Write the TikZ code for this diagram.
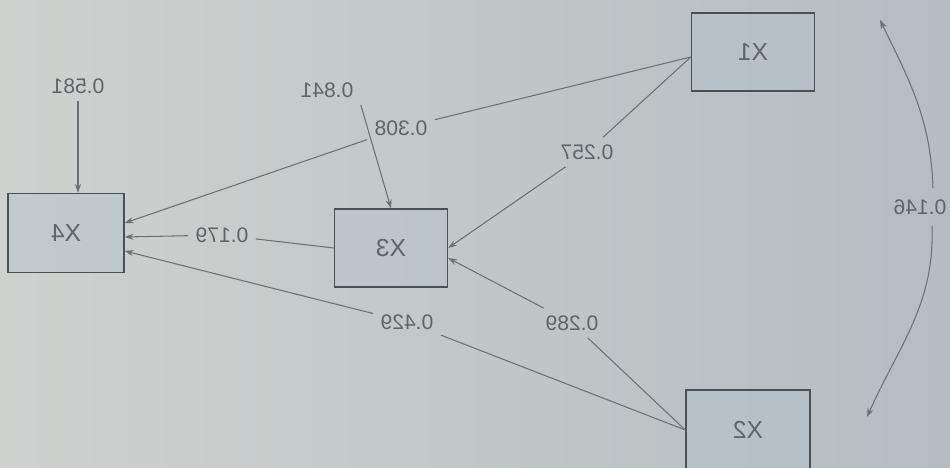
\documentclass[tikz,border=0pt]{standalone}
\usepackage{fontspec}
\setmainfont{Liberation Sans}
\usetikzlibrary{positioning, arrows.meta}
\definecolor{PhBack}{RGB}{206,210,207}
\definecolor{PhBackR}{RGB}{180,189,194}
\definecolor{PhLine}{RGB}{108,112,116}
\definecolor{PhEdge}{RGB}{76,80,84}
\definecolor{PhFill}{RGB}{180,194,202}
\definecolor{PhText}{RGB}{96,100,104}
\newcommand{\mirr}[1]{\reflectbox{#1}}

\begin{document}
\begin{tikzpicture}[
            bx/.style={rectangle, draw=PhEdge, line width=0.8pt, fill=PhFill,
                       fill opacity=0.5, text opacity=1, minimum width=2.3cm,
                       minimum height=1.56cm, text=PhText,
                       font=\fontsize{14}{16}\selectfont},
            lbl/.style={inner sep=4pt, text=PhText, font=\fontsize{12}{14}\selectfont},
            ln/.style={draw=PhLine, line width=0.6pt},
            arr/.style={-{Stealth[length=5pt, width=3.5pt]}, draw=PhLine, line width=0.6pt}
          ]
          % backdrop (photo of the page)
          \shade[left color=PhBack, right color=PhBackR] (0,0) rectangle (19,9.36);
          \useasboundingbox (0,0) rectangle (19,9.36);

          % variables
          \node[bx, minimum width=2.32cm, minimum height=1.58cm] (X4) at (1.32, 4.70) {\mirr{X4}};
          \node[bx, minimum width=2.26cm] (X3) at (7.82, 4.40) {\mirr{X3}};
          \node[bx, minimum width=2.46cm] (X1) at (15.06, 8.32) {\mirr{X1}};
          \node[bx, minimum width=2.48cm, minimum height=1.6cm] (X2) at (14.96, 0.76) {\mirr{X2}};

          % path coefficients
          \node[lbl] (l581) at (1.56, 7.64) {\mirr{0.581}};
          \node[lbl] (l841) at (6.54, 7.56) {\mirr{0.841}};
          \node[lbl] (l308) at (8.02, 6.80) {\mirr{0.308}};
          \node[lbl] (l257) at (11.74, 6.32) {\mirr{0.257}};
          \node[lbl] (l179) at (4.44, 4.66) {\mirr{0.179}};
          \node[lbl] (l429) at (8.14, 2.92) {\mirr{0.429}};
          \node[lbl] (l289) at (11.44, 2.90) {\mirr{0.289}};
          \node[lbl] (l146) at (18.40, 5.22) {\mirr{0.146}};

          % paths into X4
          \draw[arr] (l581) -- (l581 |- X4.north);
          \draw[ln] ([yshift=-0.1cm]X1.west) -- (l308);
          \draw[arr] (l308) -- ([yshift=0.2cm]X4.east);
          \draw[ln] (X3.west) -- (l179);
          \draw[arr] (l179) -- ([yshift=-0.08cm]X4.east);
          \draw[ln] (X2.west) -- (l429);
          \draw[arr] (l429) -- ([yshift=-0.36cm]X4.east);

          % paths into X3
          \draw[arr] (l841.south east) -- (X3.north);
          \draw[ln] ([yshift=-0.1cm]X1.west) -- (l257);
          \draw[arr] (l257) -- (X3.east);
          \draw[ln] (X2.west) -- (l289);
          \draw[arr] (l289) -- ([yshift=-0.2cm]X3.east);

          % correlation X1 -- X2
          \coordinate (c146a) at (17.60, 8.96);
          \coordinate (c146b) at (17.34, 1.02);
          \coordinate (c146n) at (18.66, 5.60);
          \coordinate (c146s) at (18.64, 4.84);
          \draw[arr] (c146n) to[out=92, in=-64] (c146a);
          \draw[arr] (c146s) to[out=-88, in=66] (c146b);
        \end{tikzpicture}
\end{document}
